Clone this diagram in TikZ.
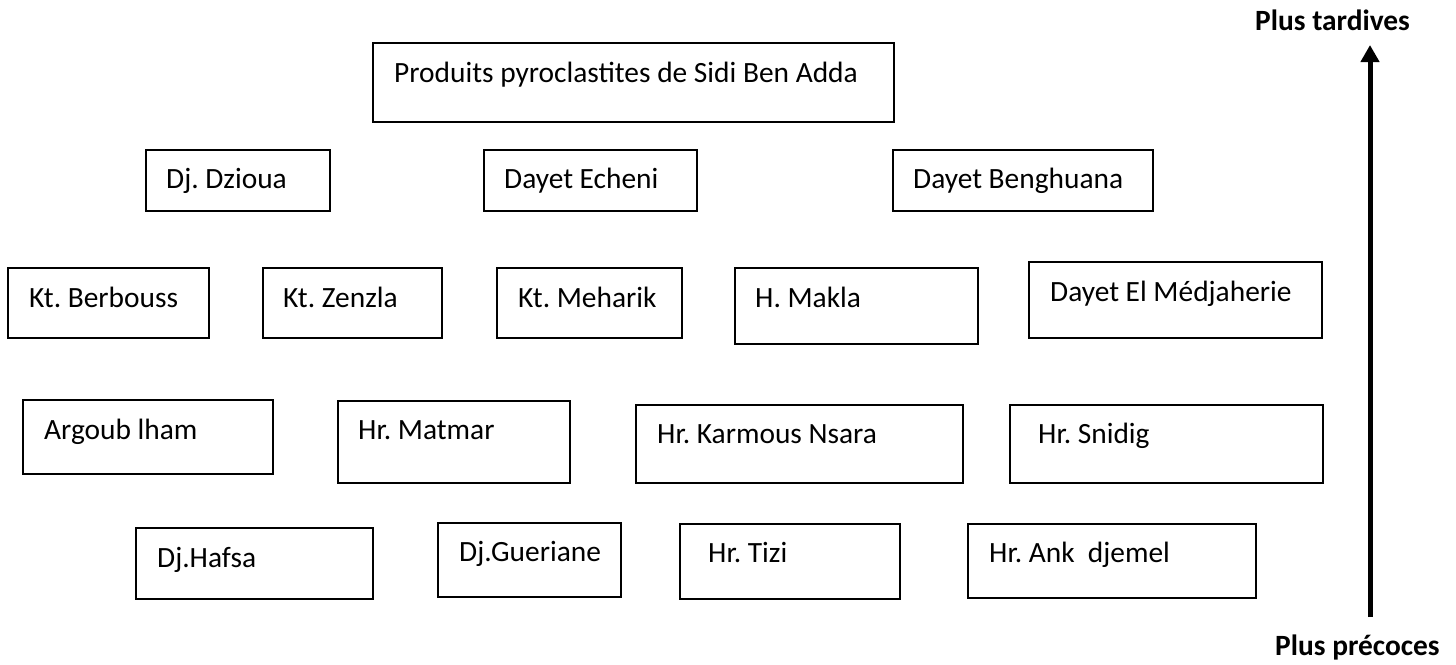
\documentclass[tikz,border=0pt]{standalone}
\usepackage{fontspec}
\setmainfont{Carlito}
\frenchspacing
\usetikzlibrary{arrows.meta}
\tikzset{
  box/.style={draw, line width=1.8pt, anchor=north west, inner sep=0pt},
  lbl/.style={anchor=base west, inner sep=0pt, font=\fontsize{29.4}{35}\selectfont},
  axislbl/.style={anchor=base west, inner sep=0pt, font=\fontsize{29.4}{35}\selectfont\bfseries},
  timearrow/.style={line width=5pt, -{Triangle[width=18pt,length=17pt]}}
}
% name, x1, y1, x2, y2, text x, text baseline y, text
\newcommand\placebox[8]{%
  \node[box, minimum width=#4pt-#2pt, minimum height=#5pt-#3pt] (#1) at (#2,#3) {};
  \node[lbl] (#1t) at (#6,#7) {#8};
}
\begin{document}
\frenchspacing
\begin{tikzpicture}[x=1pt,y=-1pt]
\useasboundingbox[fill=white] (0,0) rectangle (1456,664);
% row 1
\placebox{sba}{372}{42}{893}{121}{394}{82}{Produits pyroclastites de Sidi Ben Adda}
% row 2
\placebox{dzi}{145}{149}{329}{210}{166}{188}{Dj. Dzioua}
\placebox{ech}{483}{149}{696}{210}{504}{188}{Dayet Echeni}
\placebox{ben}{892}{149}{1152}{210}{913}{188}{Dayet Benghuana}
% row 3
\placebox{ber}{7}{267}{208}{337}{29}{307}{Kt. Berbouss}
\placebox{zen}{262}{267}{441}{337}{283}{307}{Kt. Zenzla}
\placebox{meh}{496}{267}{681}{337}{518}{307}{Kt. Meharik}
\placebox{mak}{734}{267}{977}{343}{755}{307}{H. Makla}
\placebox{med}{1028}{261}{1321}{337}{1050}{301}{Dayet El Médjaherie}
% row 4
\placebox{arg}{22}{399}{272}{473}{44}{439}{Argoub lham}
\placebox{mat}{337}{400}{569}{482}{358}{439}{Hr. Matmar}
\placebox{kar}{635}{404}{962}{482}{657}{443}{Hr. Karmous Nsara}
\placebox{sni}{1009}{404}{1322}{482}{1038}{443}{Hr. Snidig}
% row 5
\placebox{haf}{135}{527}{372}{598}{157}{567}{Dj.Hafsa}
\placebox{gue}{437}{522}{620}{596}{459}{561}{Dj.Gueriane}
\placebox{tiz}{679}{523}{899}{598}{708}{562}{Hr. Tizi}
\placebox{ank}{967}{523}{1255}{597}{989}{562}{Hr. Ank\ \ djemel}
% time axis
\node[axislbl] (late) at (1255,30) {Plus tardives};
\node[axislbl] (early) at (1275,655) {Plus précoces};
\coordinate (abot) at (1370,617);
\coordinate (atop) at (1370,45);
\draw[timearrow] (abot) -- (atop);
\end{tikzpicture}
\end{document}
